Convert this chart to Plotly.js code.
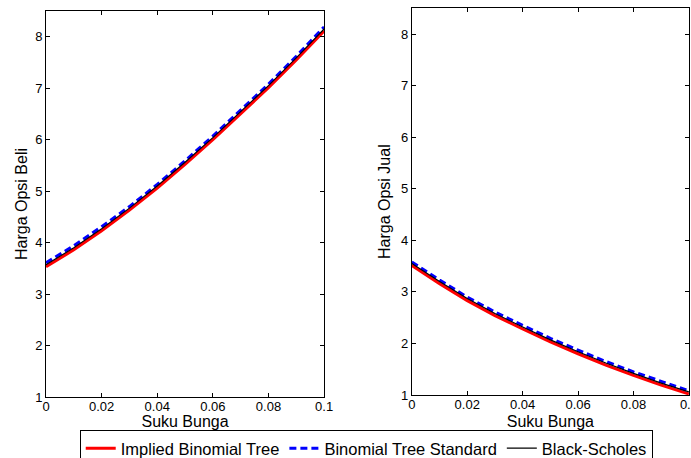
<!DOCTYPE html>
<html>
<head>
<meta charset="utf-8">
<script src="https://cdn.plot.ly/plotly-3.0.1.min.js"></script>
<style>html,body{margin:0;padding:0;background:#fff;}#chart{width:691px;height:458px;}</style>
</head>
<body>
<div id="chart"></div>
<script>
// Suku bunga (interest rate)
var rates = [0, 0.01, 0.02, 0.03, 0.04, 0.05, 0.06, 0.07, 0.08, 0.09, 0.1];

// Call option prices (Harga Opsi Beli)
var callImplied  = [3.53, 3.86, 4.23, 4.63, 5.06, 5.52, 6.00, 6.50, 7.01, 7.55, 8.11];
var callStandard = [3.61, 3.94, 4.31, 4.70, 5.13, 5.59, 6.07, 6.57, 7.08, 7.62, 8.19];
var callBS       = [3.57, 3.90, 4.27, 4.67, 5.10, 5.56, 6.04, 6.54, 7.05, 7.59, 8.15];

// Put option prices (Harga Opsi Jual)
var putImplied  = [3.51, 3.16, 2.83, 2.54, 2.28, 2.03, 1.80, 1.58, 1.38, 1.19, 1.02];
var putStandard = [3.58, 3.23, 2.90, 2.61, 2.35, 2.10, 1.87, 1.65, 1.45, 1.26, 1.08];
var putBS       = [3.55, 3.20, 2.87, 2.58, 2.32, 2.07, 1.84, 1.62, 1.42, 1.23, 1.06];

var xTicks = [0, 0.02, 0.04, 0.06, 0.08, 0.1];
var yTicks = [1, 2, 3, 4, 5, 6, 7, 8];

var names = ['Implied Binomial Tree', 'Binomial Tree Standard', 'Black-Scholes'];
var redLine = {color: '#ff0000', width: 3, dash: 'solid'};
var blueLine = {color: '#0000ff', width: 3, dash: '7px,4px'};
var blackLine = {color: '#000000', width: 1.2, dash: 'solid'};

var traces = [
  {x: rates, y: callImplied, name: names[0], line: redLine, xaxis: 'x', yaxis: 'y', mode: 'lines'},
  {x: rates, y: callStandard, name: names[1], line: blueLine, xaxis: 'x', yaxis: 'y', mode: 'lines'},
  {x: rates, y: callBS, name: names[2], line: blackLine, xaxis: 'x', yaxis: 'y', mode: 'lines'},
  {x: rates, y: putImplied, name: names[0], line: redLine, xaxis: 'x2', yaxis: 'y2', mode: 'lines', showlegend: false},
  {x: rates, y: putStandard, name: names[1], line: blueLine, xaxis: 'x2', yaxis: 'y2', mode: 'lines', showlegend: false},
  {x: rates, y: putBS, name: names[2], line: blackLine, xaxis: 'x2', yaxis: 'y2', mode: 'lines', showlegend: false}
];

var fam = 'Liberation Sans, Arial, sans-serif';
var tickFont = {family: fam, size: 13, color: '#000'};
var titleFont = {family: fam, size: 16, color: '#000'};
function xa(domain, anchor) {
  return {
    domain: domain, anchor: anchor, range: [0, 0.1], tickvals: xTicks,
    ticktext: xTicks.map(String),
    ticks: 'inside', ticklen: 4, tickwidth: 1, tickcolor: '#000',
    mirror: 'ticks', showline: true, linecolor: '#000', linewidth: 1,
    showgrid: false, zeroline: false, tickfont: tickFont,
    ticklabeloverflow: 'allow', ticklabelstandoff: -3,
    title: {text: 'Suku Bunga', font: titleFont, standoff: 6},
    automargin: false
  };
}
function ya(domain, anchor, title, so) {
  return {
    domain: domain, anchor: anchor, range: [1, 8.5], tickvals: yTicks,
    ticks: 'inside', ticklen: 4, tickwidth: 1, tickcolor: '#000',
    mirror: 'ticks', showline: true, linecolor: '#000', linewidth: 1,
    showgrid: false, zeroline: false, tickfont: tickFont,
    ticklabeloverflow: 'allow',
    title: {text: title, font: titleFont, standoff: so},
    automargin: false
  };
}

var layout = {
  width: 691, height: 458,
  margin: {l: 0, r: 0, t: 0, b: 0},
  paper_bgcolor: '#fff', plot_bgcolor: '#fff',
  showlegend: true,
  font: tickFont,
  xaxis: xa([0.0666, 0.469], 'y'),
  yaxis: ya([0.07674, 0.97442], 'x', 'Harga Opsi Beli', 3),
  xaxis2: xa([0.596, 0.997], 'y2'),
  yaxis2: ya([0.0814, 0.9807], 'x2', 'Harga Opsi Jual', 6),
  legend: {
    orientation: 'h', xref: 'container', yref: 'container',
    x: 0.53, xanchor: 'center', y: 0.06114, yanchor: 'top',
    bordercolor: '#000', borderwidth: 1, bgcolor: '#fff',
    font: {family: fam, size: 16.5, color: '#000'},
    itemwidth: 30, tracegroupgap: 0
  }
};

Plotly.newPlot('chart', traces, layout, {displayModeBar: false, staticPlot: true});
</script>
</body>
</html>
